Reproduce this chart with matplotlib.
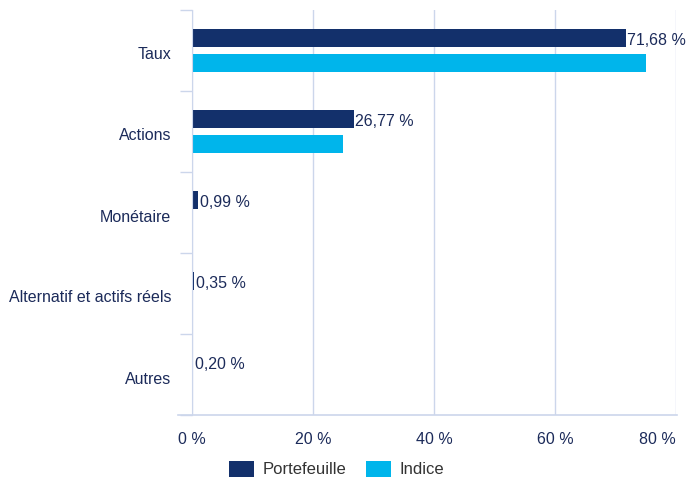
import numpy as np
import matplotlib.pyplot as plt
import matplotlib.transforms as mtrans
from matplotlib.lines import Line2D

categories = ["Taux", "Actions", "Monétaire", "Alternatif et actifs réels", "Autres"]
portefeuille = [71.68, 26.77, 0.99, 0.35, 0.20]
indice = [75.0, 24.9, 0.0, 0.0, 0.0]
xticks = [0, 20, 40, 60, 80]

navy = "#13306b"
cyan = "#00b5eb"
text_col = "#1c2b5a"
grid_col = "#ccd6eb"

plt.rcParams['font.family'] = ["Liberation Sans", "DejaVu Sans"]
plt.rcParams['font.size'] = 11.5

fig = plt.figure(figsize=(6.87, 4.84), dpi=100)
ax = fig.add_axes([192/687, 1 - 415/484, 484/687, 405/484])

y = np.arange(len(categories))
h = 0.22
off = 0.155
ax.barh(y - off, portefeuille, height=h, color=navy, label="Portefeuille")
ax.barh(y + off, indice, height=h, color=cyan, label="Indice")

# labels sit a touch below the bar centre
down = mtrans.ScaledTranslation(0, -3/100, fig.dpi_scale_trans)
for yi, v in zip(y, portefeuille):
    lab = ("%.2f %%" % v).replace(".", ",")
    ax.text(v + 0.25, yi - off, lab, va="center", ha="left",
            color=text_col, fontsize=11.5, transform=ax.transData + down)

ax.set_xlim(0, 80)
ax.set_ylim(len(categories) - 0.5, -0.5)
ax.set_xticks(xticks)
ax.set_xticklabels(["%d %%" % t for t in xticks], color=text_col)
ax.set_yticks(y)
ax.set_yticklabels(categories, color=text_col)
ax.set_yticks(np.arange(len(categories) + 1) - 0.5, minor=True)

ax.tick_params(axis="x", length=0, pad=12)
ax.tick_params(axis="y", which="major", length=0, pad=15)
ax.tick_params(axis="y", which="minor", length=9, color=grid_col, width=1)

for t in ax.get_yticklabels():
    t.set_transform(t.get_transform() + down)
# last x label is pulled inside like in the original
ax.get_xticklabels()[-1].set_horizontalalignment("right")

ax.grid(axis="x", color=grid_col, lw=1)
ax.set_axisbelow(True)
for s in ["top", "right", "bottom"]:
    ax.spines[s].set_visible(False)
ax.spines["left"].set_color(grid_col)

# bottom axis line, runs past the plot area on the left
fig.add_artist(Line2D([178/687, 677/687], [1 - 415/484, 1 - 415/484],
                      color=grid_col, lw=1.2))

leg = fig.legend(loc="center", bbox_to_anchor=(0.49, 0.031), ncol=2,
                 frameon=False, handlelength=1.5, handleheight=1.1,
                 columnspacing=1.2, handletextpad=0.5, fontsize=12)
for t in leg.get_texts():
    t.set_color("#333333")

fig.savefig("out.png", dpi=100)
